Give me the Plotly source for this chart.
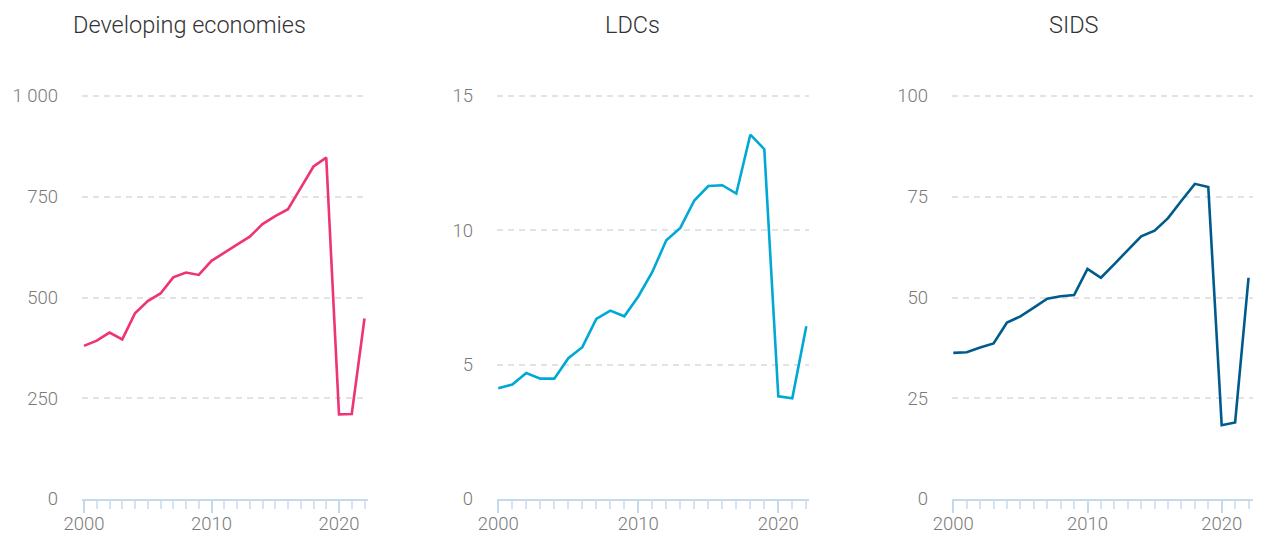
import plotly.graph_objects as go

years = list(range(2000, 2023))

developing = [380, 393, 413, 396, 461, 491, 510, 550, 562, 556, 591, 610, 631, 651,
              682, 702, 719, 772, 825, 847, 210, 211, 448]
ldcs = [4.12, 4.26, 4.69, 4.48, 4.48, 5.24, 5.65, 6.70, 7.01, 6.80, 7.54, 8.45, 9.63,
        10.09, 11.11, 11.65, 11.68, 11.37, 13.56, 13.02, 3.82, 3.75, 6.43]
sids = [36.25, 36.4, 37.6, 38.6, 43.8, 45.3, 47.5, 49.7, 50.3, 50.6, 57.1, 54.9, 58.3,
        61.7, 65.2, 66.6, 69.7, 74.0, 78.2, 77.4, 18.3, 19.0, 54.9]

titles = ["Developing economies", "LDCs", "SIDS"]
colors = ["#EE3377", "#00A9D5", "#005B8D"]

x_tickvals = [2000, 2010, 2020]
x_ticktext = ["2000", "2010", "2020"]

y_tickvals = [[0, 250, 500, 750, 1000], [0, 5, 10, 15], [0, 25, 50, 75, 100]]
y_ticktext = [["0", "250", "500", "750", "1 000"], ["0", "5", "10", "15"],
              ["0", "25", "50", "75", "100"]]
y_max = [1000, 15, 100]

W, H = 1262, 534
# pixel geometry of each panel: (axis left px, axis right px, px of year 2000, px per year)
panels = [(82, 368, 84.0, 12.75), (497, 809, 498.3, 14.0), (952, 1253, 953.3, 13.42)]
label_left = [10, 455, 895]
y_top_px, y_bot_px = 94, 499

series = [developing, ldcs, sids]
fig = go.Figure()
font_family = "Roboto"
tick_col = "#7a7a7a"

for i in range(3):
    xa = "x" if i == 0 else f"x{i+1}"
    ya = "y" if i == 0 else f"y{i+1}"
    left, right, p2000, ppy = panels[i]
    r0 = 2000 - (p2000 - left) / ppy
    r1 = 2000 + (right - p2000) / ppy
    # top of plot area sits 2px above the top gridline so that it is drawn
    top_val = y_max[i] * (y_bot_px - y_top_px) / (y_bot_px - 96)
    fig.add_trace(go.Scatter(x=years, y=series[i], mode="lines",
                             line=dict(color=colors[i], width=2.6),
                             xaxis=xa, yaxis=ya, showlegend=False, cliponaxis=False,
                             hoverinfo="x+y"))
    xkey = "xaxis" if i == 0 else f"xaxis{i+1}"
    ykey = "yaxis" if i == 0 else f"yaxis{i+1}"
    fig.layout[xkey] = dict(
        domain=[left / W, right / W], range=[r0, r1], anchor=ya, automargin=False,
        showgrid=False, zeroline=False, showline=True, linecolor="#c5d9ec", linewidth=2,
        tickmode="array", tickvals=x_tickvals, ticktext=x_ticktext,
        ticks="outside", ticklen=12, tickwidth=2, tickcolor="#c5d9ec",
        ticklabelstandoff=-5,
        minor=dict(ticks="outside", ticklen=8, tickwidth=2, tickcolor="#d4e3f1",
                   dtick=1, tick0=2000, showgrid=False),
        tickfont=dict(family=font_family, size=18.5, color=tick_col, weight=300),
        fixedrange=True,
    )
    fig.layout[ykey] = dict(
        domain=[(H - y_bot_px) / H, (H - y_top_px) / H], range=[0, top_val], anchor=xa,
        automargin=False,
        showgrid=True, gridcolor="#e3e3e3", gridwidth=1.5, griddash="6px,5px",
        zeroline=False, showline=False,
        tickmode="array", tickvals=y_tickvals[i], ticktext=y_ticktext[i],
        ticks="", ticklabelstandoff=23,
        tickfont=dict(family=font_family, size=18.5, color=tick_col, weight=300),
        fixedrange=True,
    )
    cx = (label_left[i] + right) / 2 / W
    fig.add_annotation(text=titles[i], x=cx, y=(H - 25) / H, xref="paper", yref="paper",
                       showarrow=False, xanchor="center", yanchor="middle",
                       font=dict(family=font_family, size=23.5, color="#333333", weight=300))

fig.update_layout(width=W, height=H, margin=dict(l=0, r=0, t=0, b=0),
                  paper_bgcolor="white", plot_bgcolor="white", autosize=False)

fig.write_html("out.html", config={"displayModeBar": False},
               post_script="document.body.style.margin='0';")
